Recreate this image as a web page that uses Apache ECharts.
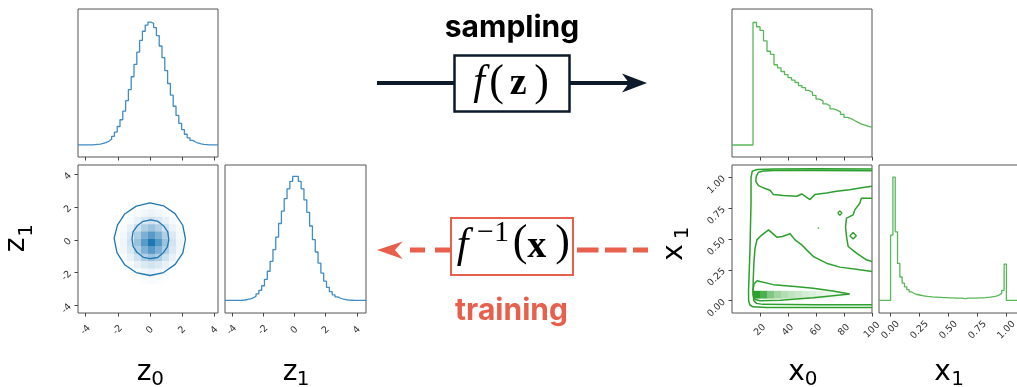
<!DOCTYPE html>
<html>
<head>
<meta charset="utf-8">
<script src="https://cdn.jsdelivr.net/npm/echarts@6/dist/echarts.min.js"></script>
<style>
  html, body { margin: 0; padding: 0; background: #ffffff; }
  #chart { width: 1017px; height: 387px; }
</style>
</head>
<body>
<div id="chart"></div>
<script>
// ---------- tick marks ----------
const zTicks = [-4, -2, 0, 2, 4];
const zTickLabels = ['-4', '-2', '0', '2', '4'];
const x0Ticks = [20, 40, 60, 80, 100];
const x0TickLabels = ['20', '40', '60', '80', '100'];
const x1Ticks = [0, 0.25, 0.5, 0.75, 1];
const x1TickLabels = ['0.00', '0.25', '0.50', '0.75', '1.00'];

// ---------- 1-D histograms (counts normalised to the tallest bin) ----------
const z0BinStart = -4.47, z0BinWidth = 0.1738;
const z0Hist = [0, 0, 0, 0, 0, 0.002, 0.004, 0.006, 0.012, 0.019,
  0.03, 0.046, 0.07, 0.105, 0.15, 0.205, 0.275, 0.36, 0.45, 0.555,
  0.655, 0.755, 0.85, 0.925, 0.975, 1.0, 0.99, 0.955, 0.89, 0.805,
  0.71, 0.605, 0.5, 0.405, 0.315, 0.24, 0.175, 0.125, 0.087, 0.058,
  0.037, 0.024, 0.014, 0.008, 0.005, 0.003, 0.001, 0, 0, 0];

const z1BinStart = -4.44, z1BinWidth = 0.1804;
const z1Hist = [0, 0, 0, 0, 0, 0.001, 0.003, 0.007, 0.012, 0.02,
  0.033, 0.052, 0.08, 0.118, 0.17, 0.235, 0.315, 0.41, 0.51, 0.62,
  0.72, 0.82, 0.9, 0.96, 1.0, 1.0, 0.96, 0.9, 0.81, 0.71,
  0.6, 0.49, 0.39, 0.3, 0.22, 0.155, 0.105, 0.07, 0.045, 0.028,
  0.017, 0.01, 0.005, 0.002, 0.001, 0, 0, 0, 0, 0];

const x0BinStart = 15, x0BinWidth = 2.5;
const x0Hist = [1.0, 0.965, 0.935, 0.85, 0.765, 0.74, 0.655, 0.63, 0.6, 0.575,
  0.55, 0.53, 0.51, 0.485, 0.468, 0.445, 0.43, 0.405, 0.375, 0.36,
  0.335, 0.32, 0.295, 0.285, 0.27, 0.25, 0.225, 0.215, 0.2, 0.185,
  0.17, 0.162, 0.152, 0.145];

const x1BinStart = 0, x1BinWidth = 0.02;
const x1Hist = [0.53, 1.0, 0.556, 0.3, 0.19, 0.14, 0.11, 0.087, 0.07, 0.058,
  0.05, 0.046, 0.042, 0.038, 0.035, 0.032, 0.03, 0.028, 0.027, 0.026,
  0.025, 0.024, 0.023, 0.022, 0.021, 0.02, 0.02, 0.019, 0.019, 0.018,
  0.018, 0.015, 0.017, 0.018, 0.018, 0.019, 0.019, 0.02, 0.02, 0.021,
  0.022, 0.024, 0.026, 0.029, 0.032, 0.037, 0.045, 0.058, 0.082, 0.295];

// ---------- 2-D histogram of (z0, z1): 20 bins per axis ----------
const zJointXStart = -4.47, zJointXBin = 0.4345;
const zJointYStart = -4.47, zJointYBin = 0.452;
const zJointFirstCol = 5, zJointTopRow = 14;
const zJointDensity = [
  [0, 0, 0, 0.01, 0.02, 0.03, 0.02, 0.01, 0, 0, 0],
  [0, 0, 0.01, 0.03, 0.06, 0.08, 0.06, 0.03, 0.01, 0, 0],
  [0, 0.01, 0.04, 0.1, 0.17, 0.21, 0.17, 0.1, 0.04, 0.01, 0],
  [0.01, 0.03, 0.1, 0.22, 0.36, 0.44, 0.35, 0.21, 0.09, 0.03, 0.01],
  [0.02, 0.06, 0.17, 0.36, 0.58, 0.74, 0.57, 0.35, 0.16, 0.05, 0.01],
  [0.02, 0.07, 0.21, 0.45, 0.74, 1.0, 0.76, 0.44, 0.2, 0.07, 0.02],
  [0.02, 0.06, 0.17, 0.35, 0.57, 0.75, 0.58, 0.36, 0.17, 0.06, 0.02],
  [0.01, 0.03, 0.1, 0.21, 0.35, 0.45, 0.36, 0.22, 0.1, 0.03, 0.01],
  [0, 0.01, 0.04, 0.1, 0.16, 0.2, 0.17, 0.1, 0.04, 0.01, 0],
  [0, 0, 0.01, 0.03, 0.06, 0.08, 0.06, 0.03, 0.01, 0, 0],
  [0, 0, 0, 0.01, 0.02, 0.03, 0.02, 0.01, 0, 0, 0]
];
const zContourOuter = [[2.2, 0.05], [2.03, 0.89], [1.55, 1.6], [0.84, 2.08], [0.0, 2.25],
  [-0.85, 2.06], [-1.57, 1.58], [-2.02, 0.9], [-2.23, 0.1], [-2.05, -0.78],
  [-1.58, -1.52], [-0.86, -2.0], [0.0, -2.18], [0.84, -2.0], [1.56, -1.5],
  [2.04, -0.8], [2.2, 0.05]];
const zContourInner = [[1.17, 0.0], [1.1, 0.48], [0.85, 0.85], [0.5, 1.12], [0.05, 1.22],
  [-0.42, 1.13], [-0.78, 0.87], [-1.05, 0.5], [-1.12, 0.07], [-1.05, -0.4],
  [-0.8, -0.78], [-0.42, -1.07], [0.0, -1.15], [0.47, -1.08], [0.82, -0.8],
  [1.07, -0.45], [1.17, 0.0]];

// ---------- 2-D histogram of (x0, x1): 20 bins per axis ----------
const xJointXBin = 5, xJointYStart = -0.1, xJointYBin = 0.06;
const xBandRow = 2, xBandFirstCol = 3;
const xBandDensity = [1.0, 0.85, 0.6, 0.45, 0.36, 0.3, 0.25, 0.2, 0.16, 0.12, 0.09, 0.06, 0.04, 0.02];

const xContourFrame = [[100, 1.068], [60, 1.07], [30, 1.068], [18, 1.064], [14.5, 1.05],
  [13.6, 1.0], [13.6, 0.8], [13.2, 0.6], [12.8, 0.4], [12.2, 0.2], [11.8, 0.08],
  [11.9, 0.0], [12.8, -0.035], [15, -0.05], [25, -0.055], [60, -0.056], [100, -0.055]];
const xContourUpper = [[100, 1.053], [60, 1.056], [30, 1.056], [22.5, 1.052], [18.9, 1.041],
  [17.3, 1.008], [17.0, 0.968], [18.9, 0.933], [22.5, 0.914], [27.2, 0.895], [29.6, 0.86],
  [36.7, 0.852], [46.2, 0.847], [49.8, 0.865], [53.3, 0.838], [55.7, 0.82], [59.2, 0.86],
  [67.5, 0.873], [74.7, 0.887], [84.1, 0.9], [93.6, 0.917], [100, 0.927]];
const xContourLower = [[100, 0.237], [91.3, 0.25], [77.0, 0.272], [67.5, 0.304], [60.4, 0.345],
  [58.1, 0.358], [53.3, 0.412], [49.8, 0.453], [45.0, 0.493], [41.5, 0.542], [36, 0.52],
  [32.0, 0.515], [26.1, 0.574], [21, 0.53], [17.8, 0.493], [16.4, 0.42], [15.6, 0.3],
  [15.1, 0.15], [15, 0.06], [15.6, 0.0], [17.5, -0.022], [22, -0.03], [60, -0.033], [100, -0.034]];
const xContourBand = [[17.8, 0.161], [29.6, 0.13], [45, 0.115], [58.0, 0.1], [72, 0.078],
  [84.1, 0.054], [72, 0.04], [58.0, 0.024], [34.4, 0.004], [20, 0.0], [16.5, 0.01],
  [15.2, 0.04], [15, 0.09], [15.8, 0.135], [17.8, 0.161]];
const xContourPocket = [[100, 0.83], [92.4, 0.83], [91.3, 0.79], [87.7, 0.736], [86.5, 0.695],
  [81.8, 0.669], [81.1, 0.601], [81.8, 0.52], [83.0, 0.439], [88.9, 0.385], [96.0, 0.331], [100, 0.318]];
const xContourIslandA = [[75.5, 0.71], [77, 0.728], [78.5, 0.71], [77, 0.692], [75.5, 0.71]];
const xContourIslandB = [[84.2, 0.526], [86.5, 0.553], [88.8, 0.526], [86.5, 0.5], [84.2, 0.526]];
const xContourIslandC = [[61.2, 0.588], [61.8, 0.595], [62.2, 0.588], [61.8, 0.58], [61.2, 0.588]];

// ---------- helpers ----------
const BLUE = [31, 119, 180];
const GREEN = [44, 160, 44];
function tint(rgb, v) {
  const c = rgb.map(ch => Math.round(255 - (255 - ch) * v));
  return 'rgb(' + c.join(',') + ')';
}
function stepPoints(start, width, vals, axMin, axMax) {
  const pts = [[axMin, 0], [start, 0]];
  vals.forEach((v, i) => { pts.push([start + i * width, v]); pts.push([start + (i + 1) * width, v]); });
  const end = start + vals.length * width;
  if (end < axMax - 1e-9) { pts.push([end, 0]); pts.push([axMax, 0]); }
  return pts;
}
function labelFor(ticks, labels) {
  return v => { const i = ticks.findIndex(t => Math.abs(t - v) < 1e-9); return i >= 0 ? labels[i] : ''; };
}
const tickFont = { fontSize: 9.5, fontFamily: 'DejaVu Sans', color: '#333' };
const tickStyle = { color: '#444', width: 1 };
function xAxisDef(grid, min, max, ticks, labels, withLabels) {
  return {
    type: 'value', gridIndex: grid, min: min, max: max, position: 'bottom',
    axisLine: { show: false, onZero: false }, splitLine: { show: false },
    axisTick: { show: true, inside: false, length: 3.5, customValues: ticks, lineStyle: tickStyle },
    axisLabel: Object.assign({
      show: withLabels, customValues: ticks, formatter: labelFor(ticks, labels),
      rotate: 45, align: 'center', verticalAlign: 'middle', margin: 17
    }, tickFont)
  };
}
function yAxisDef(grid, min, max, ticks, labels) {
  if (!ticks) return { type: 'value', gridIndex: grid, min: min, max: max, show: false };
  return {
    type: 'value', gridIndex: grid, min: min, max: max, position: 'left',
    axisLine: { show: false, onZero: false }, splitLine: { show: false },
    axisTick: { show: true, inside: false, length: 3.5, customValues: ticks, lineStyle: tickStyle },
    axisLabel: Object.assign({
      show: true, customValues: ticks, formatter: labelFor(ticks, labels),
      rotate: 45, align: 'right', verticalAlign: 'middle', margin: 8
    }, tickFont)
  };
}
function gridDef(left, top, width, height) {
  return { left: left, top: top, width: width, height: height, show: true,
    borderColor: '#555', borderWidth: 1, backgroundColor: 'transparent',
    containLabel: false, outerBoundsMode: 'none' };
}
function lineSeries(idx, data, color, width) {
  return { type: 'line', xAxisIndex: idx, yAxisIndex: idx, data: data, symbol: 'none',
    showSymbol: false, smooth: false, clip: true, silent: true, z: 3,
    lineStyle: { color: color, width: width } };
}
function cellSeries(idx, cells, rgb) {
  return {
    type: 'custom', xAxisIndex: idx, yAxisIndex: idx, data: cells, silent: true, z: 1, clip: true,
    encode: { x: [0, 1], y: [2, 3] },
    renderItem: function (params, api) {
      const a = api.coord([api.value(0), api.value(3)]);
      const b = api.coord([api.value(1), api.value(2)]);
      return { type: 'rect',
        shape: { x: a[0], y: a[1], width: b[0] - a[0] + 0.4, height: b[1] - a[1] + 0.4 },
        style: { fill: tint(rgb, api.value(4)) } };
    }
  };
}

// cells of the (z0, z1) histogram
const zCells = [];
zJointDensity.forEach((row, r) => row.forEach((v, c) => {
  if (v <= 0) return;
  const xl = zJointXStart + (zJointFirstCol + c) * zJointXBin;
  const yb = zJointYStart + (zJointTopRow - r) * zJointYBin;
  zCells.push([xl, xl + zJointXBin, yb, yb + zJointYBin, v]);
}));
// cells of the (x0, x1) histogram
const xCells = xBandDensity.map((v, c) => {
  const xl = (xBandFirstCol + c) * xJointXBin;
  const yb = xJointYStart + xBandRow * xJointYBin;
  return [xl, xl + xJointXBin, yb, yb + xJointYBin, v];
});

// axis ranges
const zXMin = -4.47, zXMax = 4.22, zYMin = -4.47, zYMax = 4.57;
const z1XMin = -4.44, z1XMax = 4.58;
const x0Min = 0, x0Max = 100, x1Min = -0.1, x1Max = 1.1;

const BLUE_HIST = '#3f8cc6', GREEN_HIST = '#58b858';
const BLUE_LINE = '#1f77b4', GREEN_LINE = '#2ca02c';

// ---------- diagram annotations ----------
const NAVY = '#0d1a2b', RED = '#e8604c';
function txt(t, x, y, font, fill, rot) {
  return { type: 'text', x: x, y: y, rotation: rot || 0, silent: true, z: 120,
    style: { text: t, font: font, fill: fill, align: 'center', verticalAlign: 'middle' } };
}
const SERIF = '"Liberation Serif", "Times New Roman", serif';
const SANS = '"DejaVu Sans", sans-serif';
const graphics = [
  // sampling: z -> x
  { type: 'line', z: 100, silent: true, shape: { x1: 377, y1: 83, x2: 455, y2: 83 }, style: { stroke: NAVY, lineWidth: 4 } },
  { type: 'line', z: 100, silent: true, shape: { x1: 569, y1: 83, x2: 632, y2: 83 }, style: { stroke: NAVY, lineWidth: 4 } },
  { type: 'polygon', z: 101, silent: true, shape: { points: [[647, 83], [622, 73.5], [629, 83], [622, 92.5]] }, style: { fill: NAVY } },
  { type: 'rect', z: 102, silent: true, shape: { x: 454.5, y: 55.5, width: 115, height: 56 }, style: { fill: '#fff', stroke: NAVY, lineWidth: 2.5 } },
  txt('f', 479, 82.7, 'italic 42px ' + SERIF, '#000'),
  txt('(', 496.7, 83.2, '44px ' + SERIF, '#000'),
  txt('z', 518.3, 83.9, 'bold 38px ' + SERIF, '#000'),
  txt(')', 541.7, 83.2, '44px ' + SERIF, '#000'),
  txt('sampling', 512, 27.6, 'bold 30px Inter, "Liberation Sans", sans-serif', '#000'),

  // training: x -> z
  { type: 'line', z: 100, silent: true, shape: { x1: 577, y1: 250, x2: 648, y2: 250 }, style: { stroke: RED, lineWidth: 5, lineDash: [21.5, 6.5] } },
  { type: 'line', z: 100, silent: true, shape: { x1: 450, y1: 250, x2: 405, y2: 250 }, style: { stroke: RED, lineWidth: 5, lineDash: [15, 10] } },
  { type: 'polygon', z: 101, silent: true, shape: { points: [[377, 250], [402.7, 241.5], [395, 250], [402.7, 259]] }, style: { fill: RED } },
  { type: 'rect', z: 102, silent: true, shape: { x: 451, y: 218, width: 122, height: 57 }, style: { fill: '#fff', stroke: RED, lineWidth: 2 } },
  txt('f', 462.5, 246.1, 'italic 42px ' + SERIF, '#000'),
  txt('\u22121', 493, 232.9, '30px ' + SERIF, '#000'),
  txt('(', 520, 243.7, '44px ' + SERIF, '#000'),
  txt('x', 536.7, 247.2, 'bold 38px ' + SERIF, '#000'),
  txt(')', 562.5, 243.7, '44px ' + SERIF, '#000'),
  txt('training', 511.5, 311, 'bold 30px Inter, "Liberation Sans", sans-serif', RED),

  // axis titles
  txt('z', 144, 372.3, '28px ' + SANS, '#000'),
  txt('0', 157.5, 379.8, '20px ' + SANS, '#000'),
  txt('z', 290, 372.3, '28px ' + SANS, '#000'),
  txt('1', 303, 379.8, '20px ' + SANS, '#000'),
  txt('x', 796.5, 372.3, '28px ' + SANS, '#000'),
  txt('0', 811, 379.8, '20px ' + SANS, '#000'),
  txt('x', 942.5, 372.3, '28px ' + SANS, '#000'),
  txt('1', 957.5, 379.8, '20px ' + SANS, '#000'),
  txt('z', 17, 245, '28px ' + SANS, '#000', Math.PI / 2),
  txt('1', 26.4, 230.5, '20px ' + SANS, '#000', Math.PI / 2),
  txt('x', 674.3, 252.5, '28px ' + SANS, '#000', Math.PI / 2),
  txt('1', 683, 233, '20px ' + SANS, '#000', Math.PI / 2)
];

const option = {
  animation: false,
  backgroundColor: '#ffffff',
  grid: [
    gridDef(78, 9, 140, 148),    // z0 marginal
    gridDef(78, 165, 140, 148),  // z0 vs z1
    gridDef(225, 165, 141, 148), // z1 marginal
    gridDef(732, 9, 140, 148),   // x0 marginal
    gridDef(732, 165, 140, 148), // x0 vs x1
    gridDef(879, 165, 139, 148)  // x1 marginal
  ],
  xAxis: [
    xAxisDef(0, zXMin, zXMax, zTicks, zTickLabels, false),
    xAxisDef(1, zXMin, zXMax, zTicks, zTickLabels, true),
    xAxisDef(2, z1XMin, z1XMax, zTicks, zTickLabels, true),
    xAxisDef(3, x0Min, x0Max, x0Ticks, x0TickLabels, false),
    xAxisDef(4, x0Min, x0Max, x0Ticks, x0TickLabels, true),
    xAxisDef(5, x1Min, x1Max, x1Ticks, x1TickLabels, true)
  ],
  yAxis: [
    yAxisDef(0, -0.098, 1.106),
    yAxisDef(1, zYMin, zYMax, zTicks, zTickLabels),
    yAxisDef(2, -0.102, 1.092),
    yAxisDef(3, -0.098, 1.11),
    yAxisDef(4, x1Min, x1Max, x1Ticks, x1TickLabels),
    yAxisDef(5, -0.102, 1.098)
  ],
  series: [
    lineSeries(0, stepPoints(z0BinStart, z0BinWidth, z0Hist, zXMin, zXMax), BLUE_HIST, 1.3),
    cellSeries(1, zCells, BLUE),
    lineSeries(1, zContourOuter, BLUE_LINE, 1.3),
    lineSeries(1, zContourInner, BLUE_LINE, 1.3),
    lineSeries(2, stepPoints(z1BinStart, z1BinWidth, z1Hist, z1XMin, z1XMax), BLUE_HIST, 1.3),
    lineSeries(3, stepPoints(x0BinStart, x0BinWidth, x0Hist, x0Min, x0Max), GREEN_HIST, 1.3),
    cellSeries(4, xCells, GREEN),
    lineSeries(4, xContourFrame, GREEN_LINE, 1.5),
    lineSeries(4, xContourUpper, GREEN_LINE, 1.5),
    lineSeries(4, xContourLower, GREEN_LINE, 1.5),
    lineSeries(4, xContourBand, GREEN_LINE, 1.5),
    lineSeries(4, xContourPocket, GREEN_LINE, 1.5),
    lineSeries(4, xContourIslandA, GREEN_LINE, 1.4),
    lineSeries(4, xContourIslandB, GREEN_LINE, 1.4),
    lineSeries(4, xContourIslandC, GREEN_LINE, 1.2),
    lineSeries(5, stepPoints(x1BinStart, x1BinWidth, x1Hist, x1Min, x1Max), GREEN_HIST, 1.3)
  ],
  graphic: { elements: graphics }
};

const chart = echarts.init(document.getElementById('chart'), null, { renderer: 'canvas' });
chart.setOption(option);
</script>
</body>
</html>
